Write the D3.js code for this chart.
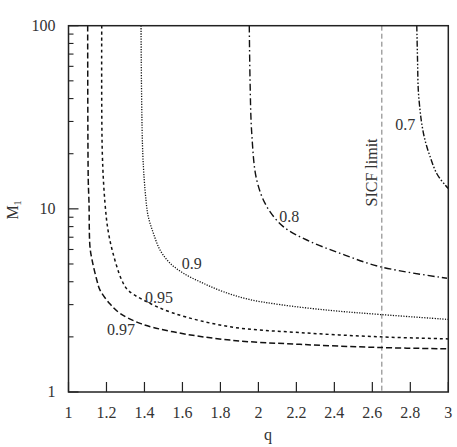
<!DOCTYPE html>
<html>
<head>
<meta charset="utf-8">
<script src="https://cdn.jsdelivr.net/npm/d3@7"></script>
<style>
  body { margin: 0; background: #fff; }
  svg text { font-family: "Liberation Serif", "DejaVu Serif", serif; fill: #333; }
</style>
</head>
<body>
<div id="svg"></div>
<script>
// contour curves, [q, M1]
var c097 = [[1.101,100],[1.104,14.4],[1.108,10.8],[1.113,6.21],[1.124,5.26],[1.149,4.09],[1.166,3.60],
  [1.219,3.02],[1.271,2.69],[1.377,2.37],[1.551,2.13],[1.851,1.92],[2.219,1.82],[2.640,1.75],[3.0,1.72]];
var c095 = [[1.175,100],[1.178,20.2],[1.192,10.8],[1.208,7.66],[1.234,5.74],[1.280,4.09],[1.313,3.60],
  [1.394,3.18],[1.550,2.70],[1.851,2.27],[2.219,2.11],[2.641,2.00],[3.0,1.95]];
var c09 = [[1.382,100],[1.391,20.2],[1.408,11.17],[1.420,9.06],[1.447,7.36],[1.482,5.96],[1.535,5.05],
  [1.605,4.45],[1.710,3.92],[1.815,3.53],[1.947,3.21],[2.114,3.00],[2.377,2.79],[2.641,2.65],[3.0,2.49]];
var c08 = [[1.952,100],[1.956,50.5],[1.965,25.8],[1.991,14.4],[2.044,10.3],[2.131,8.0],[2.255,6.76],
  [2.430,5.72],[2.641,4.83],[2.993,4.18]];
var c07 = [[2.834,100],[2.838,65],[2.842,44.5],[2.851,34.7],[2.860,29.3],[2.877,23.8],[2.904,19.3],
  [2.939,15.6],[2.983,13.5],[3.004,12.8]];

var curveNames = ["0.97", "0.95", "0.9", "0.8", "0.7"];
var curveData = [c097, c095, c09, c08, c07];
// label anchor positions [q, M1]
var labelPos = [[1.203,2.05], [1.403,3.06], [1.596,4.69], [2.11,8.5], [2.72,27]];

var xTicks = [1, 1.2, 1.4, 1.6, 1.8, 2, 2.2, 2.4, 2.6, 2.8, 3];
var yMajor = [1, 10, 100];
var sicf = 2.65;

var chart = {
  width: 457,
  height: 447,
  m: {left: 68.5, right: 8.7, top: 25.7, bottom: 55},
  dashes: ["6,3", "3,3", "1.2,1.4", "7,3,1.5,3", "6,2,1.5,2,1.5,2"],
  widths: [1.5, 1.5, 1.3, 1.4, 1.4],
  init: function(){
    var w = this.width - this.m.left - this.m.right;
    var h = this.height - this.m.top - this.m.bottom;
    this.svg = d3.select('#svg').append('svg')
      .attr('width', this.width)
      .attr('height', this.height);
    var g = this.svg.append('g').attr('transform', 'translate(' + this.m.left + ',' + this.m.top + ')');

    var x = d3.scaleLinear().domain([1, 3]).range([0, w]);
    var y = d3.scaleLog().domain([1, 100]).range([h, 0]);

    // clip for curves
    this.svg.append('clipPath').attr('id', 'clip')
      .append('rect').attr('width', w).attr('height', h);

    // SICF limit
    g.append('line')
      .attr('x1', x(sicf)).attr('x2', x(sicf))
      .attr('y1', 0).attr('y2', h)
      .attr('stroke', '#555').attr('stroke-width', 0.8)
      .attr('stroke-dasharray', '5,3');
    g.append('text')
      .attr('transform', 'translate(' + (x(sicf) - 5) + ',' + y(15.8) + ') rotate(-90)')
      .attr('text-anchor', 'middle')
      .style('font-size', '16px')
      .text('SICF limit');

    var line = d3.line()
      .x(function(d){ return x(d[0]); })
      .y(function(d){ return y(d[1]); })
      .curve(d3.curveCatmullRom.alpha(0.5));

    var self = this;
    g.append('g').attr('clip-path', 'url(#clip)')
      .selectAll('path').data(curveData).enter().append('path')
      .attr('d', line)
      .attr('fill', 'none')
      .attr('stroke', '#111')
      .attr('stroke-width', function(d, i){ return self.widths[i]; })
      .attr('stroke-dasharray', function(d, i){ return self.dashes[i]; });

    g.selectAll('text.lab').data(curveNames).enter().append('text')
      .attr('class', 'lab')
      .attr('x', function(d, i){ return x(labelPos[i][0]); })
      .attr('y', function(d, i){ return y(labelPos[i][1]); })
      .style('font-size', '16px')
      .text(function(d){ return d; });

    // frame
    g.append('rect').attr('width', w).attr('height', h)
      .attr('fill', 'none').attr('stroke', '#222').attr('stroke-width', 1.5);

    // x ticks (inside)
    g.selectAll('line.xt').data(xTicks).enter().append('line')
      .attr('x1', function(d){ return x(d); }).attr('x2', function(d){ return x(d); })
      .attr('y1', h).attr('y2', h - 10)
      .attr('stroke', '#222').attr('stroke-width', 1.2);
    g.selectAll('text.xl').data(xTicks).enter().append('text')
      .attr('x', function(d){ return x(d); })
      .attr('y', h + 26)
      .attr('text-anchor', 'middle')
      .style('font-size', '16px')
      .text(function(d){ return d3.format('')(d); });

    // y ticks, log
    var minor = y.ticks().filter(function(d){ return yMajor.indexOf(d) < 0; });
    g.selectAll('line.ym').data(minor).enter().append('line')
      .attr('x1', 0).attr('x2', 5)
      .attr('y1', function(d){ return y(d); }).attr('y2', function(d){ return y(d); })
      .attr('stroke', '#222').attr('stroke-width', 1.1);
    g.selectAll('line.yM').data(yMajor).enter().append('line')
      .attr('x1', 0).attr('x2', 10)
      .attr('y1', function(d){ return y(d); }).attr('y2', function(d){ return y(d); })
      .attr('stroke', '#222').attr('stroke-width', 1.2);
    g.selectAll('text.yl').data(yMajor).enter().append('text')
      .attr('x', -13)
      .attr('y', function(d){ return y(d); })
      .attr('dy', '0.33em')
      .attr('text-anchor', 'end')
      .style('font-size', '16px')
      .text(function(d){ return d; });

    // axis titles
    this.svg.append('text')
      .attr('x', 268).attr('y', 440)
      .attr('text-anchor', 'middle')
      .style('font-size', '16px')
      .text('q');
    var yl = this.svg.append('text')
      .attr('transform', 'translate(18,210) rotate(-90)')
      .attr('text-anchor', 'middle')
      .style('font-size', '16px');
    yl.append('tspan').text('M');
    yl.append('tspan').attr('dy', 3).style('font-size', '10px').text('1');
  }
};
chart.init();
</script>
</body>
</html>
